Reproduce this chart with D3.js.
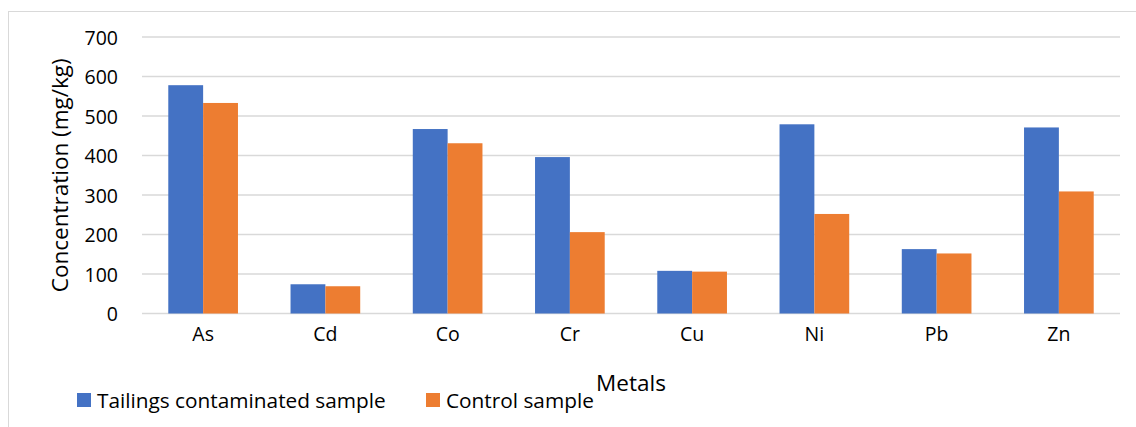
<!DOCTYPE html>
<html>
<head>
<meta charset="utf-8">
<script src="https://cdn.jsdelivr.net/npm/d3@7"></script>
<style>
  body { margin: 0; background: #fff; }
  svg text { font-family: "Open Sans", sans-serif; fill: #000; }
</style>
</head>
<body>
<svg id="chart" width="1136" height="427"></svg>
<script>
// values (mg/kg)
const metals = ["As", "Cd", "Co", "Cr", "Cu", "Ni", "Pb", "Zn"]
const tailings = [578, 74, 467, 396, 108, 479, 163, 471]
const control = [533, 69, 431, 206, 106, 252, 152, 309]
const seriesNames = ["Tailings contaminated sample", "Control sample"]
const seriesColors = ["#4472C4", "#ED7D31"]
const yTicks = [0, 100, 200, 300, 400, 500, 600, 700]

const svg = d3.select("#chart")

// outer chart border (only left and top edges are visible)
svg.append("rect")
    .attr("x", 8.5).attr("y", 11.5)
    .attr("width", 1200).attr("height", 500)
    .attr("fill", "none").attr("stroke", "#d9d9d9").attr("stroke-width", 1)

const plotLeft = 142, plotRight = 1120, plotTop = 37, plotBottom = 313.5

const x = d3.scaleBand().domain(metals).range([plotLeft, plotRight]).paddingInner(0.43).paddingOuter(0.215)
const xs = d3.scaleBand().domain([0, 1]).range([0, x.bandwidth()])
const y = d3.scaleLinear().domain([0, 700]).range([plotBottom, plotTop])

// gridlines
svg.append("g")
    .selectAll("line")
    .data(yTicks)
    .join("line")
    .attr("x1", plotLeft).attr("x2", plotRight)
    .attr("y1", d => y(d)).attr("y2", d => y(d))
    .attr("stroke", "#d9d9d9").attr("stroke-width", 1.5)

// y tick labels
const yAxis = d3.axisLeft(y).tickValues(yTicks).tickSize(0).tickPadding(0)
svg.append("g")
    .attr("transform", `translate(${plotLeft - 24},0)`)
    .call(yAxis)
    .call(g => g.select(".domain").remove())
    .selectAll("text")
    .style("font-size", "19.5px")
    .attr("dy", "0.36em")

// bars
const rows = metals.map((m, i) => ({ metal: m, values: [tailings[i], control[i]] }))
svg.append("g")
    .selectAll("g")
    .data(rows)
    .join("g")
    .attr("transform", d => `translate(${x(d.metal)},0)`)
    .selectAll("rect")
    .data(d => d.values.map((v, k) => ({ v, k })))
    .join("rect")
    .attr("x", d => xs(d.k))
    .attr("width", xs.bandwidth())
    .attr("y", d => y(d.v))
    .attr("height", d => y(0) - y(d.v))
    .attr("fill", d => seriesColors[d.k])

// x labels
const xAxis = d3.axisBottom(x).tickSize(0).tickPadding(0)
svg.append("g")
    .attr("transform", `translate(0,${plotBottom + 24})`)
    .call(xAxis)
    .call(g => g.select(".domain").remove())
    .selectAll("text")
    .style("font-size", "19.5px")
    .attr("dy", "0.2em")

// axis titles
svg.append("text")
    .attr("x", (plotLeft + plotRight) / 2).attr("y", 391)
    .attr("text-anchor", "middle")
    .style("font-size", "22.5px")
    .text("Metals")

svg.append("text")
    .attr("transform", `translate(68,${(plotTop + plotBottom) / 2 - 0}) rotate(-90)`)
    .attr("text-anchor", "middle")
    .style("font-size", "22.5px")
    .text("Concentration (mg/kg)")

// legend
const legendX = [77, 426]
const legend = svg.append("g")
    .selectAll("g")
    .data(seriesNames)
    .join("g")
    .attr("transform", (d, i) => `translate(${legendX[i]},393)`)
legend.append("rect")
    .attr("width", 14).attr("height", 14)
    .attr("fill", (d, i) => seriesColors[i])
legend.append("text")
    .attr("x", 20).attr("y", 14.5)
    .style("font-size", "20.8px")
    .text(d => d)
</script>
</body>
</html>
